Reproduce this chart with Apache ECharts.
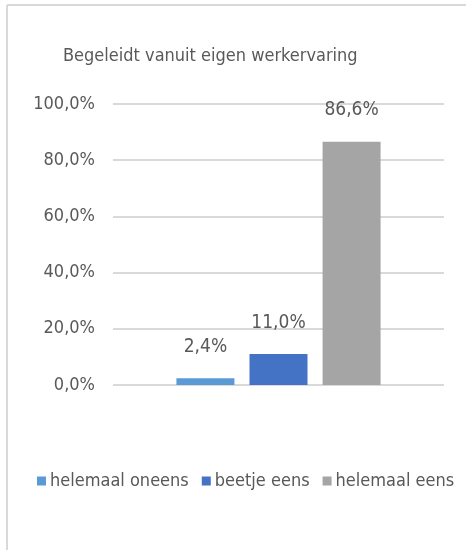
<!DOCTYPE html>
<html>
<head>
<meta charset="utf-8">
<script src="https://cdn.jsdelivr.net/npm/echarts@6/dist/echarts.min.js"></script>
<style>
  html, body { margin: 0; padding: 0; background: #fff; overflow: hidden; }
  #chart { width: 466px; height: 550px; }
</style>
</head>
<body>
<div id="chart"></div>
<script>
var titleText = 'Begeleidt vanuit eigen werkervaring';
var categories = [''];
var seriesNames = ['helemaal oneens', 'beetje eens', 'helemaal eens'];
var seriesValues = [[2.4], [11.0], [86.6]];
var seriesColors = ['#5b9bd5', '#4472c4', '#a5a5a5'];
var yTicks = [0, 20, 40, 60, 80, 100];

var fontFam = '"DejaVu Sans Condensed", "Liberation Sans Narrow", sans-serif';

function pct(v) {
	return v.toFixed(1).replace('.', ',') + '%';
}

var chart = echarts.init(document.getElementById('chart'));

var series = seriesNames.map(function (name, i) {
	return {
		name: name,
		type: 'bar',
		data: seriesValues[i],
		barWidth: 58,
		barGap: '26%',
		itemStyle: { color: seriesColors[i] },
		label: {
			show: true,
			position: 'top',
			distance: 22,
			color: '#595959',
			fontSize: 19,
			fontFamily: fontFam,
			formatter: function (p) { return pct(p.value); }
		}
	};
});

var option = {
	animation: false,
	// chart area frame (only left and top edges are visible in the crop)
	graphic: [
		{ type: 'line', silent: true, shape: { x1: 7, y1: 5, x2: 466, y2: 5 }, style: { stroke: '#d9d9d9', lineWidth: 2 } },
		{ type: 'line', silent: true, shape: { x1: 7, y1: 5, x2: 7, y2: 550 }, style: { stroke: '#d9d9d9', lineWidth: 2 } }
	],
	title: {
		text: titleText,
		left: 58,
		top: 42,
		textStyle: { color: '#595959', fontSize: 18, fontWeight: 'normal', fontFamily: fontFam }
	},
	legend: {
		data: seriesNames,
		left: 32,
		top: 467,
		width: 440,
		itemWidth: 9,
		itemHeight: 9,
		itemGap: 13,
		icon: 'rect',
		textStyle: { color: '#595959', fontSize: 18, fontFamily: fontFam, padding: [0, 0, 0, -1] }
	},
	grid: { left: 113, right: 22, top: 104, bottom: 165 },
	xAxis: {
		type: 'category',
		data: categories,
		axisLine: { show: false },
		axisTick: { show: false },
		axisLabel: { show: false }
	},
	yAxis: {
		type: 'value',
		min: yTicks[0],
		max: yTicks[yTicks.length - 1],
		interval: yTicks[1] - yTicks[0],
		axisLine: { show: false },
		axisTick: { show: false },
		splitLine: { lineStyle: { color: '#d9d9d9', width: 2 } },
		axisLabel: {
			color: '#595959',
			fontSize: 18,
			fontFamily: fontFam,
			margin: 18,
			formatter: function (v) { return pct(v); }
		}
	},
	series: series
};

chart.setOption(option);
</script>
</body>
</html>
